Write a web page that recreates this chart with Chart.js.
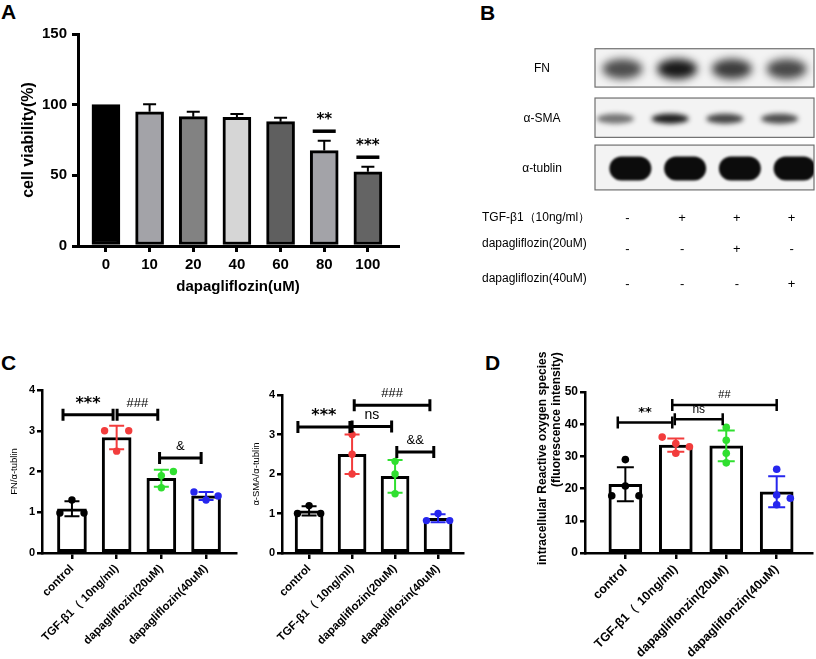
<!DOCTYPE html>
<html>
<head>
<meta charset="utf-8">
<script src="https://cdn.jsdelivr.net/npm/chart.js@4.4.1/dist/chart.umd.min.js"></script>
<style>
  body { margin:0; background:#fff; font-family:"Liberation Sans", Arial, sans-serif; }
  #page { position:relative; width:816px; height:659px; overflow:hidden; background:#fff; }
  canvas { position:absolute; }
  .panel { position:absolute; font-weight:bold; font-size:21px; line-height:24px; }
  .txt { position:absolute; font-size:12px; white-space:nowrap; transform:translateY(-50%); }
  .mid { position:absolute; font-size:12px; white-space:nowrap; transform:translate(-50%,-50%); }
  .sign { position:absolute; font-size:13px; transform:translate(-50%,-50%); }
  #rosTitle { position:absolute; left:535px; top:352px; height:216px; writing-mode:vertical-rl;
              transform:rotate(180deg); font-weight:bold; font-size:12px; line-height:14px;
              text-align:end; white-space:nowrap; }
</style>
</head>
<body>
<div id="page">
  <div class="panel" style="left:1px;top:0px">A</div>
  <div class="panel" style="left:480px;top:1px">B</div>
  <div class="panel" style="left:1px;top:351px">C</div>
  <div class="panel" style="left:485px;top:351px">D</div>

  <canvas id="viab" width="410" height="300" style="left:0;top:0"></canvas>
  <canvas id="blot" width="226" height="156" style="left:590px;top:40px"></canvas>
  <canvas id="fn" width="240" height="284" style="left:0;top:375px"></canvas>
  <canvas id="sma" width="230" height="284" style="left:240px;top:375px"></canvas>
  <canvas id="ros" width="296" height="284" style="left:520px;top:375px"></canvas>
  <div id="rosTitle">intracellular Reactive oxygen species<br>(fluorescence intensity)</div>
  <div id="blotText"></div>
</div>
<script>
// ---- panel A: cell viability
const doseLabels = ['0', '10', '20', '40', '60', '80', '100'];
const viability = [100, 95, 91.5, 91, 88, 67.5, 52.5];
const viabilitySd = [0, 5.3, 3.5, 2.4, 2.8, 7, 3.6];
const viabilitySig = ['', '', '', '', '', '**', '***'];
const doseFill = ['#000000', '#a3a3a8', '#828282', '#d6d6d6', '#5f5f5f', '#a3a3a8', '#646464'];

// ---- panel B: western blot
const blotProteins = ['FN', 'α-SMA', 'α-tublin'];
const fnBand = [0.72, 0.95, 0.8, 0.74];
const smaBand = [0.55, 0.92, 0.75, 0.72];
const tublinBand = [1, 1, 1, 1];
const treatNames = ['TGF-β1（10ng/ml）', 'dapagliflozin(20uM)', 'dapagliflozin(40uM)'];
const treatTgf = ['-', '+', '+', '+'];
const treatDapa20 = ['-', '-', '+', '-'];
const treatDapa40 = ['-', '-', '-', '+'];

// ---- panels C and D: groups
const groupNames = ['control', 'TGF-β1（ 10ng/ml)', 'dapagliflozin(20uM)', 'dapagliflozin(40uM)'];
const groupNamesRos = ['control', 'TGF-β1（ 10ng/ml)', 'dapagliflonzin(20uM)', 'dapagliflonzin(40uM)'];
const groupColors = ['#000000', '#f23c3c', '#30df30', '#2626ee'];
const fnRatio = [[1.3, 0.98, 0.98], [3.0, 3.0, 2.5], [1.9, 2.0, 1.6], [1.3, 1.5, 1.4]];
const smaRatio = [[1.2, 1.0, 1.0], [3.0, 2.5, 2.0], [2.32, 2.0, 1.5], [1.0, 0.82, 0.82]];
const rosIntensity = [[29, 20.8, 17.8, 17.8], [36, 34, 33, 31], [39, 35, 31, 28], [26, 18, 17, 15]];
const fnSig = [
  {from: -0.2, to: 0.92, y: 3.39, text: '***'},
  {from: 1.01, to: 1.92, y: 3.39, text: '###'},
  {from: 1.96, to: 2.89, y: 2.33, text: '&'}
];
const smaSig = [
  {from: -0.26, to: 0.95, y: 3.19, text: '***'},
  {from: 1.0, to: 1.92, y: 3.2, text: 'ns'},
  {from: 1.05, to: 2.81, y: 3.74, text: '###'},
  {from: 2.04, to: 2.9, y: 2.56, text: '&&'}
];
const rosSig = [
  {from: -0.15, to: 0.93, y: 40.5, text: '**'},
  {from: 0.98, to: 1.93, y: 41.5, text: 'ns'},
  {from: 0.93, to: 3.0, y: 46, text: '##'}
];

const FONT = '"Liberation Sans", Arial, sans-serif';
Chart.defaults.font.family = FONT;
Chart.defaults.color = '#000';
Chart.defaults.animation = false;
Chart.defaults.plugins.legend.display = false;
Chart.defaults.plugins.tooltip.enabled = false;

// error bars, significance bars and brackets, drawn through the chart scales
function marksPlugin(cfg) {
  return {
    id: 'marks',
    afterDatasetsDraw(chart) {
      const ctx = chart.ctx, xs = chart.scales.x, ys = chart.scales.y;
      ctx.save();
      (cfg.errors || []).forEach(e => {
        const x = xs.getPixelForValue(e.x);
        const top = ys.getPixelForValue(e.mean + e.sd);
        const low = ys.getPixelForValue(e.both ? e.mean - e.sd : e.mean);
        ctx.strokeStyle = e.color;
        ctx.lineWidth = cfg.errWidth;
        ctx.beginPath();
        ctx.moveTo(x, low); ctx.lineTo(x, top);
        ctx.moveTo(x - cfg.cap / 2, top); ctx.lineTo(x + cfg.cap / 2, top);
        if (e.both) { ctx.moveTo(x - cfg.cap / 2, low); ctx.lineTo(x + cfg.cap / 2, low); }
        ctx.stroke();
      });
      ctx.fillStyle = '#000';
      ctx.strokeStyle = '#000';
      ctx.textAlign = 'center';
      ctx.textBaseline = 'middle';
      (cfg.flags || []).forEach(f => {
        const x = xs.getPixelForValue(f.x);
        const y = ys.getPixelForValue(f.top) - 9.5;
        ctx.lineWidth = 3.5;
        ctx.beginPath(); ctx.moveTo(x - 11.5, y); ctx.lineTo(x + 11.5, y); ctx.stroke();
        ctx.font = cfg.starFont;
        ctx.fillText(f.text, x, y - 11);
      });
      (cfg.brackets || []).forEach(b => {
        const x1 = xs.getPixelForValue(b.from), x2 = xs.getPixelForValue(b.to);
        const y = ys.getPixelForValue(b.y);
        ctx.lineWidth = cfg.bracketWidth;
        ctx.beginPath();
        ctx.moveTo(x1, y); ctx.lineTo(x2, y);
        ctx.moveTo(x1, y - 6); ctx.lineTo(x1, y + 6);
        ctx.moveTo(x2, y - 6); ctx.lineTo(x2, y + 6);
        ctx.stroke();
        ctx.font = b.text.includes('*') ? cfg.starFont : (b.text === 'ns' ? cfg.nsFont : cfg.textFont);
        ctx.fillText(b.text, (x1 + x2) / 2, y - cfg.labelGap);
      });
      ctx.restore();
    }
  };
}

// side-by-side slots for points that would overlap (like a small beeswarm)
function spread(values, near, same) {
  const order = values.map((v, i) => i).sort((a, b) => values[a] - values[b]);
  const slot = new Array(values.length);
  const placed = [];
  let flip = 1;
  order.forEach(i => {
    const v = values[i];
    const hit = s => placed.some(j => slot[j] === s && Math.abs(values[j] - v) < near);
    if (!hit(0)) {
      slot[i] = 0;
    } else {
      const twin = placed.find(j => slot[j] === 0 && Math.abs(values[j] - v) < same);
      if (twin !== undefined && !hit(-1) && !hit(1)) { slot[twin] = -1; slot[i] = 1; }
      else { let s = flip; if (hit(s)) s = -s; slot[i] = s; flip = -flip; }
    }
    placed.push(i);
  });
  return slot;
}

function axisGrid(w) {
  return {
    offset: false,
    grid: {drawOnChartArea: false, drawTicks: true, offset: false, color: '#000', lineWidth: w, tickLength: 6},
    border: {display: true, color: '#000', width: w}
  };
}

// ---- A
new Chart(document.getElementById('viab'), {
  type: 'bar',
  data: {
    datasets: [{
      data: viability.map((v, i) => ({x: i, y: v})),
      backgroundColor: doseFill,
      borderColor: '#000',
      borderWidth: 3,
      borderSkipped: false,
      barThickness: 28
    }]
  },
  options: {
    responsive: false,
    layout: {padding: {left: 0, top: 34, right: 12, bottom: 4}},
    scales: {
      x: Object.assign({
        type: 'linear', min: -0.64, max: 6.69,
        afterBuildTicks: s => { s.ticks = doseLabels.map((_, i) => ({value: i})); },
        afterFit: s => { s.height = 50; },
        ticks: {callback: v => doseLabels[v], font: {size: 15, weight: 'bold'}, padding: 4, maxRotation: 0},
        title: {display: true, text: 'dapagliflozin(uM)', font: {size: 15, weight: 'bold'}, padding: {top: 0, bottom: 0}}
      }, axisGrid(3)),
      y: Object.assign({
        min: 0, max: 150,
        afterFit: s => { s.width = 78; },
        ticks: {stepSize: 50, font: {size: 15, weight: 'bold'}, padding: 5},
        title: {display: true, text: 'cell viability(%)', font: {size: 16, weight: 'bold'}, padding: {top: 19, bottom: 0}}
      }, axisGrid(3))
    }
  },
  plugins: [marksPlugin({
    errWidth: 2, cap: 13,
    errors: viability.map((m, i) => ({x: i, mean: m, sd: viabilitySd[i], color: '#000', both: false})).filter(e => e.sd > 0),
    flags: viabilitySig.map((t, i) => ({x: i, top: viability[i] + viabilitySd[i], text: t})).filter(f => f.text),
    starFont: 'bold 15px "DejaVu Sans"'
  })]
});

// ---- B
const bandStyle = [
  {w: 40, h: 20, blur: 4.5, shift: 0, box: 0.77, pill: false},
  {w: 37, h: 10, blur: 2.5, shift: -7, box: 0.79, pill: false},
  {w: 42, h: 24, blur: 1.2, shift: 8, box: 0.9, pill: true}
];
const blotPlugin = {
  id: 'blot',
  beforeDatasetsDraw(chart) {
    const ctx = chart.ctx, a = chart.chartArea, xs = chart.scales.x, ys = chart.scales.y;
    const rowH = Math.abs(ys.getPixelForValue(1) - ys.getPixelForValue(0));
    chart.data.datasets.forEach((ds, r) => {
      const st = bandStyle[r];
      const cy = ys.getPixelForValue(r);
      const bh = rowH * st.box;
      ctx.save();
      ctx.fillStyle = '#f3f3f3';
      ctx.fillRect(a.left, cy - bh / 2, a.right - a.left, bh);
      ctx.beginPath(); ctx.rect(a.left, cy - bh / 2, a.right - a.left, bh); ctx.clip();
      ds.data.forEach(p => {
        const cx = xs.getPixelForValue(p.x) + st.shift;
        ctx.filter = 'blur(' + st.blur + 'px)';
        ctx.fillStyle = 'rgba(12,12,12,' + p.v + ')';
        ctx.beginPath();
        if (st.pill && ctx.roundRect) ctx.roundRect(cx - st.w / 2, cy - st.h / 2 + 1, st.w, st.h, st.h / 2);
        else ctx.ellipse(cx, cy + 1, st.w / 2, st.h / 2, 0, 0, Math.PI * 2);
        ctx.fill();
      });
      ctx.restore();
      ctx.save();
      ctx.strokeStyle = '#707070';
      ctx.lineWidth = 1.2;
      ctx.strokeRect(a.left, cy - bh / 2, a.right - a.left, bh);
      ctx.restore();
    });
  }
};
const blotChart = new Chart(document.getElementById('blot'), {
  type: 'scatter',
  data: {
    datasets: [fnBand, smaBand, tublinBand].map((row, r) => ({
      data: row.map((v, j) => ({x: j, y: r, v: v})),
      pointRadius: 0
    }))
  },
  options: {
    responsive: false,
    layout: {padding: {left: 5, right: 2, top: 3, bottom: 3.6}},
    scales: {
      x: {type: 'linear', min: -0.5, max: 3.5, display: false},
      y: {type: 'linear', min: -0.5, max: 2.5, reverse: true, display: false}
    }
  },
  plugins: [blotPlugin]
});

(function blotLabels() {
  const box = document.getElementById('blotText');
  const ys = blotChart.scales.y, xs = blotChart.scales.x;
  let html = '';
  blotProteins.forEach((name, r) => {
    html += '<div class="mid" style="left:542px;top:' + (40 + ys.getPixelForValue(r)) + 'px">' + name + '</div>';
  });
  const rowY = [217, 245.5, 280.5];
  [treatTgf, treatDapa20, treatDapa40].forEach((signs, k) => {
    html += '<div class="txt" style="left:482px;top:' + (rowY[k] - (k ? 2.5 : 0)) + 'px">' + treatNames[k] + '</div>';
    signs.forEach((s, j) => {
      html += '<div class="sign" style="left:' + (590 + xs.getPixelForValue(j) + 5) + 'px;top:' + (rowY[k] + (k ? 2.5 : 0)) + 'px">' + s + '</div>';
    });
  });
  box.innerHTML = html;
})();

// ---- C and D
function groupChart(id, o) {
  const means = o.values.map(g => g.reduce((a, b) => a + b, 0) / g.length);
  const sds = o.values.map((g, i) => Math.sqrt(g.reduce((a, b) => a + (b - means[i]) ** 2, 0) / (g.length - 1)));
  const pts = [], cols = [];
  o.values.forEach((g, gi) => {
    const slots = spread(g, o.near, o.near * 0.4);
    g.forEach((v, k) => { pts.push({x: gi + slots[k] * 0.27, y: v}); cols.push(groupColors[gi]); });
  });
  const yScale = Object.assign({
    min: 0, max: o.yMax,
    afterFit: s => { s.width = o.yWidth; },
    ticks: {stepSize: o.yStep, font: {size: o.yFont, weight: 'bold'}, padding: 2}
  }, axisGrid(2.5));
  yScale.grid.tickLength = 5;
  if (o.yTitle) {
    yScale.title = {display: true, text: o.yTitle, font: {size: 9.5}, padding: {top: o.titlePad, bottom: 0}};
  }
  return new Chart(document.getElementById(id), {
    type: 'bar',
    data: {
      datasets: [
        {type: 'bar', order: 2, data: means.map((m, i) => ({x: i, y: m})),
         backgroundColor: '#fff', borderColor: '#000', borderWidth: 3, borderSkipped: false, barThickness: o.barW},
        {type: 'scatter', order: 1, data: pts, pointBackgroundColor: cols, pointBorderWidth: 0, pointRadius: o.r}
      ]
    },
    options: {
      responsive: false,
      layout: {padding: {left: 0, top: o.top, right: o.right, bottom: 0}},
      scales: {
        x: Object.assign({
          type: 'linear', min: o.xMin, max: o.xMax,
          afterBuildTicks: s => { s.ticks = o.names.map((_, i) => ({value: i})); },
          afterFit: s => { s.height = 106; },
          ticks: {callback: v => o.names[v], font: {size: o.xFont, weight: 'bold'}, padding: 3, minRotation: 45, maxRotation: 45, autoSkip: false}
        }, axisGrid(2.5)),
        y: yScale
      }
    },
    plugins: [marksPlugin({
      errWidth: 2, cap: o.cap, bracketWidth: o.bracketW, labelGap: o.labelGap,
      errors: means.map((m, i) => ({x: i, mean: m, sd: sds[i], color: groupColors[i], both: true})),
      brackets: o.sig,
      starFont: o.starFont, textFont: o.textFont, nsFont: o.nsFont
    })]
  });
}

groupChart('fn', {
  values: fnRatio, names: groupNames, sig: fnSig, yMax: 4, yStep: 1, yFont: 11, xFont: 11.5,
  yWidth: 42, top: 15, right: 3, xMin: -0.67, xMax: 3.67, barW: 29, r: 3.7, cap: 15, near: 0.2,
  bracketW: 3, labelGap: 11.5, yTitle: 'FN/α-tublin', titlePad: 9,
  starFont: 'bold 16px "DejaVu Sans"', textFont: '13px ' + FONT, nsFont: '14px ' + FONT
});
groupChart('sma', {
  values: smaRatio, names: groupNames, sig: smaSig, yMax: 4, yStep: 1, yFont: 11, xFont: 11.5,
  yWidth: 42, top: 20, right: 7, xMin: -0.63, xMax: 3.58, barW: 28, r: 3.7, cap: 15, near: 0.2,
  bracketW: 3, labelGap: 11.5, yTitle: 'α-SMA/α-tublin', titlePad: 11,
  starFont: 'bold 16px "DejaVu Sans"', textFont: '13px ' + FONT, nsFont: '14px ' + FONT
});
groupChart('ros', {
  values: rosIntensity, names: groupNamesRos, sig: rosSig, yMax: 50, yStep: 10, yFont: 12, xFont: 12.5,
  yWidth: 65, top: 17, right: 1, xMin: -0.8, xMax: 3.7, barW: 33, r: 3.8, cap: 17, near: 2.8,
  bracketW: 2.5, labelGap: 10,
  starFont: 'bold 13px "DejaVu Sans"', textFont: '11px ' + FONT, nsFont: '12px ' + FONT
});
</script>
</body>
</html>
